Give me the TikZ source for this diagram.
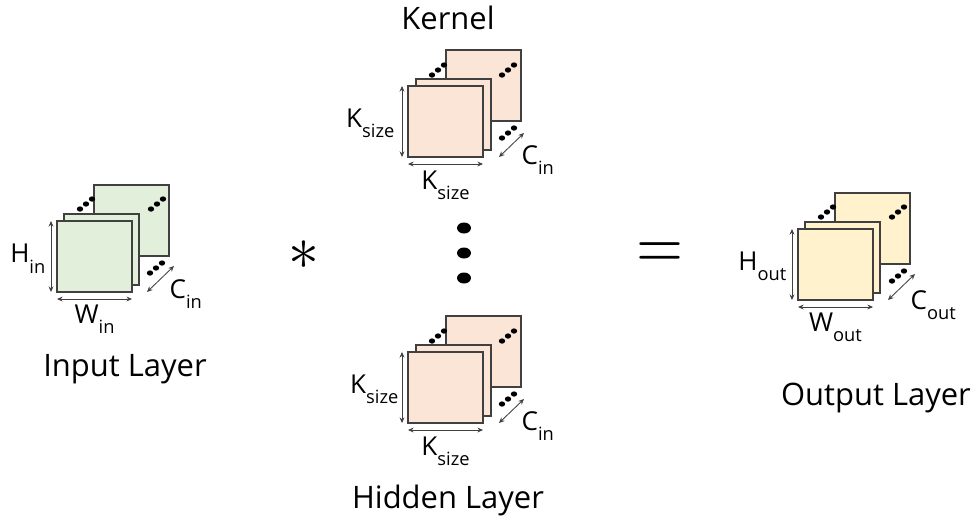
\documentclass[tikz,border=0pt]{standalone}
\usepackage{fontspec}
\setmainfont{Open Sans}
\usetikzlibrary{arrows.meta,positioning}
\definecolor{framecolor}{RGB}{64,64,64}
\definecolor{inputfill}{RGB}{226,239,218}
\definecolor{kernelfill}{RGB}{251,229,214}
\definecolor{outputfill}{RGB}{255,242,204}
\newcommand{\dimlbl}[2]{#1\raisebox{-0.4em}{\fontsize{13}{13}\selectfont #2}}

\begin{document}
\begin{tikzpicture}[
			x=0.025cm, y=-0.025cm,
			fmap/.style={
				draw=framecolor,
				line width=0.9pt,
				anchor=north west,
				minimum width=1.875cm,
				minimum height=1.775cm,
				inner sep=0pt,
				outer sep=0pt
			},
			dimarrow/.style={
				{Stealth[length=4pt,width=3.5pt]}-{Stealth[length=4pt,width=3.5pt]},
				draw=black!75,
				line width=0.6pt
			},
			dimlabel/.style={
				font=\fontsize{18.5}{18.5}\selectfont,
				inner sep=1pt
			},
			title/.style={
				font=\fontsize{22}{22}\selectfont
			},
			pics/dotrun/.style={
				code={
					\fill (-6,5) ellipse (2.3pt and 1.9pt);
					\fill (0,0) ellipse (2.3pt and 1.9pt);
					\fill (6,-5) ellipse (2.3pt and 1.9pt);
				}
			}
			]
			\useasboundingbox (0,0) rectangle (976,521);
			
			% input layer
			\node[fmap,fill=inputfill] (inB) at (94,185) {};
			\node[fmap,fill=inputfill] (inM) at (64,214) {};
			\node[fmap,fill=inputfill] (inF) at (57,221) {};
			\pic at ([shift={(29,-17)}]inF.north west) {dotrun};
			\pic at ([shift={(100,-17)}]inF.north west) {dotrun};
			\pic at ([shift={(99,47)}]inF.north west) {dotrun};
			\draw[dimarrow] ([shift={(-6,0)}]inF.north west) -- ([shift={(-6,0)}]inF.south west);
			\draw[dimarrow] ([shift={(0,7)}]inF.south west) -- ([shift={(0,7)}]inF.south east);
			\draw[dimarrow] ([shift={(90,71)}]inF.north west) -- ([shift={(117,45)}]inF.north west);
			\node[dimlabel,anchor=east] (inH) at ([shift={(-10,2)}]inF.west) {\dimlbl{H}{in}};
			\node[dimlabel,anchor=north] (inW) at ([shift={(0,11)}]inF.south) {\dimlbl{W}{in}};
			\node[dimlabel,anchor=west] (inC) at ([shift={(111,73)}]inF.north west) {\dimlbl{C}{in}};
			\node[title] (inTitle) at (125,369) {Input Layer};
			
			% kernel
			\node[fmap,fill=kernelfill] (kB) at (446,50) {};
			\node[fmap,fill=kernelfill] (kM) at (416,79) {};
			\node[fmap,fill=kernelfill] (kF) at (408,86) {};
			\pic at ([shift={(30,-16)}]kF.north west) {dotrun};
			\pic at ([shift={(100,-16)}]kF.north west) {dotrun};
			\pic at ([shift={(100,47)}]kF.north west) {dotrun};
			\draw[dimarrow] ([shift={(-6,0)}]kF.north west) -- ([shift={(-6,0)}]kF.south west);
			\draw[dimarrow] ([shift={(0,7)}]kF.south west) -- ([shift={(0,7)}]kF.south east);
			\draw[dimarrow] ([shift={(91,71)}]kF.north west) -- ([shift={(116,47)}]kF.north west);
			\node[dimlabel,anchor=east] (kH) at ([shift={(-12,2)}]kF.west) {\dimlbl{K}{size}};
			\node[dimlabel,anchor=north] (kW) at ([shift={(0,12)}]kF.south) {\dimlbl{K}{size}};
			\node[dimlabel,anchor=west] (kC) at ([shift={(112,74)}]kF.north west) {\dimlbl{C}{in}};
			\node[title] (kTitle) at (448,18) {Kernel};
			
			% hidden layer
			\node[fmap,fill=kernelfill] (hB) at (446,316) {};
			\node[fmap,fill=kernelfill] (hM) at (416,345) {};
			\node[fmap,fill=kernelfill] (hF) at (408,352) {};
			\pic at ([shift={(30,-16)}]hF.north west) {dotrun};
			\pic at ([shift={(100,-16)}]hF.north west) {dotrun};
			\pic at ([shift={(100,47)}]hF.north west) {dotrun};
			\draw[dimarrow] ([shift={(-6,0)}]hF.north west) -- ([shift={(-6,0)}]hF.south west);
			\draw[dimarrow] ([shift={(0,7)}]hF.south west) -- ([shift={(0,7)}]hF.south east);
			\draw[dimarrow] ([shift={(91,71)}]hF.north west) -- ([shift={(116,47)}]hF.north west);
			\node[dimlabel,anchor=east] (hH) at ([shift={(-8,2)}]hF.west) {\dimlbl{K}{size}};
			\node[dimlabel,anchor=north] (hW) at ([shift={(0,12)}]hF.south) {\dimlbl{K}{size}};
			\node[dimlabel,anchor=west] (hC) at ([shift={(112,74)}]hF.north west) {\dimlbl{C}{in}};
			\node[title] (hTitle) at (448,500) {Hidden Layer};
			
			% vertical dots between the kernels
			\fill (464,228) ellipse (7 and 5.5);
			\fill (464,253) ellipse (7 and 5.5);
			\fill (464,278) ellipse (7 and 5.5);
			
			% output layer
			\node[fmap,fill=outputfill] (outB) at (835,193) {};
			\node[fmap,fill=outputfill] (outM) at (805,222) {};
			\node[fmap,fill=outputfill] (outF) at (798,229) {};
			\pic at ([shift={(29,-17)}]outF.north west) {dotrun};
			\pic at ([shift={(100,-17)}]outF.north west) {dotrun};
			\pic at ([shift={(100,47)}]outF.north west) {dotrun};
			\draw[dimarrow] ([shift={(-6,0)}]outF.north west) -- ([shift={(-6,0)}]outF.south west);
			\draw[dimarrow] ([shift={(0,7)}]outF.south west) -- ([shift={(0,7)}]outF.south east);
			\draw[dimarrow] ([shift={(90,71)}]outF.north west) -- ([shift={(117,45)}]outF.north west);
			\node[dimlabel,anchor=east] (outH) at ([shift={(-10,2)}]outF.west) {\dimlbl{H}{out}};
			\node[dimlabel,anchor=north] (outW) at ([shift={(0,11)}]outF.south) {\dimlbl{W}{out}};
			\node[dimlabel,anchor=west] (outC) at ([shift={(111,76)}]outF.north west) {\dimlbl{C}{out}};
			\node[title] (outTitle) at (876,398) {Output Layer};
			
			% operators
			\node (convOp) at (304,255) {\scalebox{4.4}{$\ast$}};
			\node (eqOp) at (660,256) {\scalebox{4.3}[5]{$=$}};
			
		\end{tikzpicture}
\end{document}
